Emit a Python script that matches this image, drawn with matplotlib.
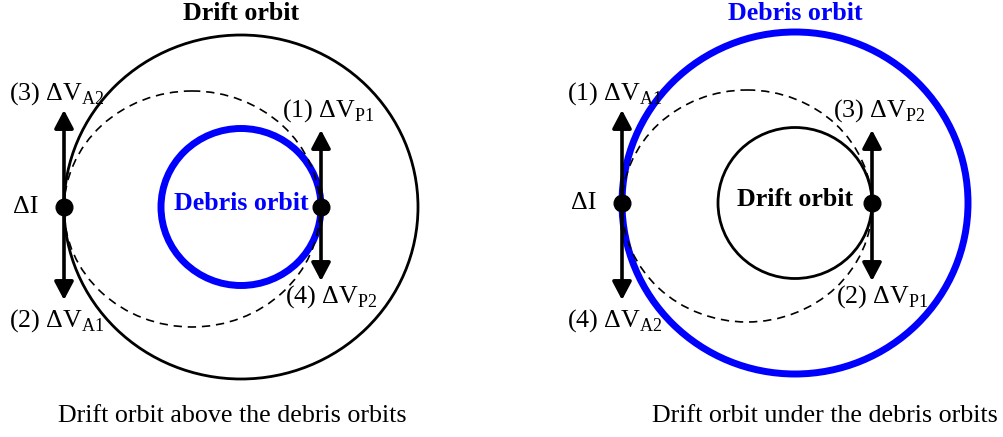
import matplotlib
matplotlib.use("Agg")
import matplotlib.pyplot as plt
from matplotlib.patches import Ellipse, FancyArrowPatch

plt.rcParams['font.family'] = ['Liberation Serif', 'DejaVu Serif']
plt.rcParams['mathtext.fontset'] = 'custom'
plt.rcParams['mathtext.rm'] = 'Liberation Serif'

BLUE = '#0000ff'
FS = 18.7

# panel titles / captions
titles = ["Drift orbit", "Debris orbit"]
inner_names = ["Debris orbit", "Drift orbit"]
captions = ["Drift orbit above the debris orbits", "Drift orbit under the debris orbits"]

# impulse labels: (upper-left, lower-left, upper-right, lower-right)
impulse_labels = [["(3) ΔV$_{\\mathrm{A2}}$", "(2) ΔV$_{\\mathrm{A1}}$", "(1) ΔV$_{\\mathrm{P1}}$", "(4) ΔV$_{\\mathrm{P2}}$"],
                  ["(1) ΔV$_{\\mathrm{A1}}$", "(4) ΔV$_{\\mathrm{A2}}$", "(3) ΔV$_{\\mathrm{P2}}$", "(2) ΔV$_{\\mathrm{P1}}$"]]

# geometry in pixels: outer orbit, inner orbit, transfer ellipse
centers = [(241, 207), (795, 203)]
outer_r = [(177, 172), (173, 171)]
inner_r = [(80, 78.5), (77, 75.5)]
transfer = [((192, 209), (128, 118)), ((747, 206), (125, 116))]
outer_col = ['black', BLUE]
inner_col = [BLUE, 'black']
outer_lw = [2.0, 5.0]
inner_lw = [5.0, 2.0]

fig = plt.figure(figsize=(10.04, 4.37), dpi=100)
ax = fig.add_axes([0, 0, 1, 1])
ax.set_xlim(0, 1004)
ax.set_ylim(437, 0)
ax.axis('off')

for i in range(2):
    cx, cy = centers[i]
    ax.add_patch(Ellipse((cx, cy), 2 * outer_r[i][0], 2 * outer_r[i][1], fill=False,
                         ec=outer_col[i], lw=outer_lw[i]))
    ax.add_patch(Ellipse((cx, cy), 2 * inner_r[i][0], 2 * inner_r[i][1], fill=False,
                         ec=inner_col[i], lw=inner_lw[i]))
    (tx, ty), (trx, try_) = transfer[i]
    ax.add_patch(Ellipse((tx, ty), 2 * trx, 2 * try_, fill=False, ec='black', lw=1.2,
                         ls=(0, (5, 3.5))))

    xl = cx - outer_r[i][0]
    xr = cx + inner_r[i][0]
    # arrows
    for x, top, bot in [(xl, 110, 300), (xr, 130, 281)]:
        ax.add_patch(FancyArrowPatch((x, bot), (x, top),
                                     arrowstyle='<|-|>,head_length=11,head_width=5.8',
                                     mutation_scale=1, lw=2.6, color='black',
                                     shrinkA=0, shrinkB=0))
    ax.plot([xl, xr], [cy, cy], 'o', ms=12, color='black', ls='none')

    ax.text(xl - 38, cy, "ΔI", fontsize=FS, ha='center', va='center')
    lab = impulse_labels[i]
    ax.text(xl - 55, 94, lab[0], fontsize=FS, ha='left', va='center')
    ax.text(xl - 55, 321, lab[1], fontsize=FS, ha='left', va='center')
    ax.text(xr - 39, 111, lab[2], fontsize=FS, ha='left', va='center')
    ax.text(xr - 36, 297, lab[3], fontsize=FS, ha='left', va='center')

    ax.text(cx, 13, titles[i], fontsize=FS, fontweight='bold', ha='center', va='center',
            color=outer_col[i])
    ax.text(cx, cy - 3, inner_names[i], fontsize=FS, fontweight='bold', ha='center',
            va='center', color=inner_col[i])

ax.text(232, 416, captions[0], fontsize=FS, ha='center', va='center')
ax.text(825, 416, captions[1], fontsize=FS, ha='center', va='center')

fig.savefig("out.png", dpi=100)
